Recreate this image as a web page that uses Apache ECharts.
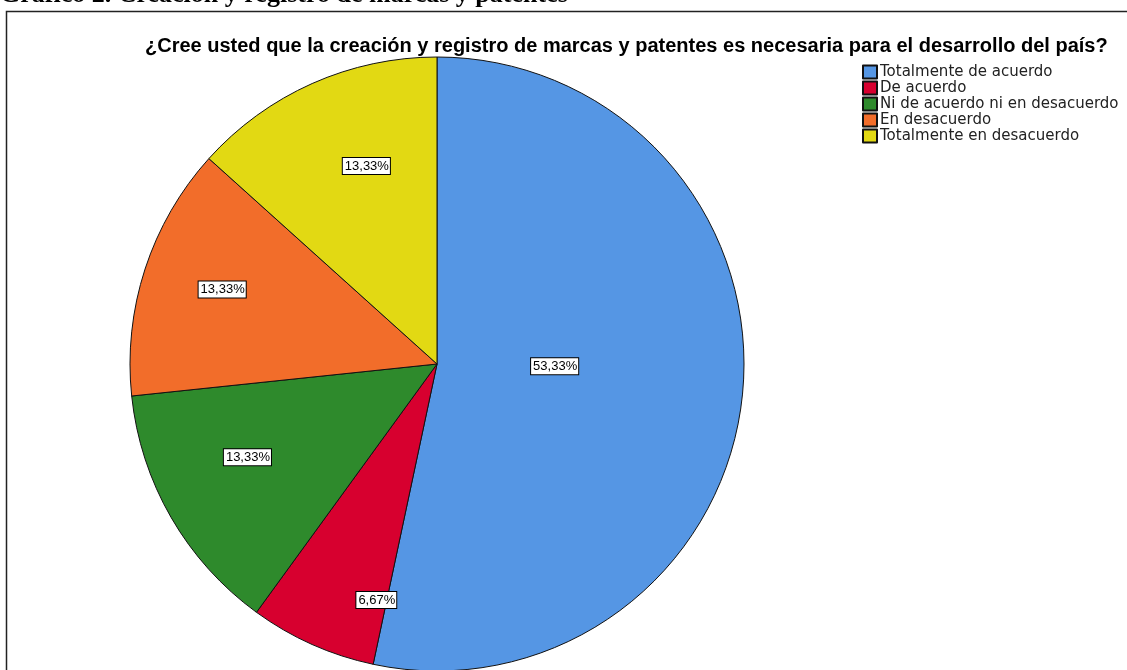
<!DOCTYPE html>
<html>
<head>
<meta charset="utf-8">
<script src="https://cdn.jsdelivr.net/npm/echarts@6/dist/echarts.min.js"></script>
<style>
  html, body { margin: 0; padding: 0; background: #fff; }
  #chart { width: 1127px; height: 670px; }
</style>
</head>
<body>
<div id="chart"></div>
<script>
const categories = ['Totalmente de acuerdo', 'De acuerdo', 'Ni de acuerdo ni en desacuerdo', 'En desacuerdo', 'Totalmente en desacuerdo'];
const percentages = [53.33, 6.67, 13.33, 13.33, 13.33];
const colors = ['#5596e4', '#d7002f', '#2e8a2c', '#f26d2a', '#e2d913'];
// label nudges from the default inside spot (SPSS puts them at uneven radii)
const labelOffsets = [[-38, -14], [3, 93], [-54, 15], [-66, -26], [-7, -55]];

const chart = echarts.init(document.getElementById('chart'), null, { renderer: 'canvas' });

const option = {
  animation: false,
  title: {
    text: '¿Cree usted que la creación y registro de marcas y patentes es necesaria para el desarrollo del país?',
    left: 145,
    top: 36,
    padding: 0,
    textStyle: { fontFamily: 'Liberation Sans', fontWeight: 'bold', fontSize: 20, color: '#000' }
  },
  legend: {
    orient: 'vertical',
    left: 862,
    top: 64,
    padding: 0,
    itemWidth: 14,
    itemHeight: 13,
    itemGap: 0,
    icon: 'rect',
    data: categories,
    textStyle: { fontFamily: 'DejaVu Sans', fontSize: 15, lineHeight: 16, color: '#222', padding: [0, 0, 0, -2] }
  },
  graphic: [
    {
      type: 'text',
      left: 0,
      top: -18,
      style: {
        text: 'Gráfico 2. Creación y registro de marcas y patentes',
        font: 'bold 26px "Liberation Serif"',
        fill: '#000'
      }
    },
    {
      type: 'rect',
      shape: { x: 6.5, y: 11.5, width: 1125, height: 680 },
      style: { fill: 'none', stroke: '#222', lineWidth: 1.5 },
      silent: true
    }
  ],
  series: [{
    type: 'pie',
    center: [437, 364],
    radius: 307,
    startAngle: 90,
    clockwise: true,
    data: categories.map((name, i) => ({
      name: name,
      value: percentages[i],
      itemStyle: { color: colors[i] },
      label: { offset: labelOffsets[i] }
    })),
    itemStyle: { borderColor: '#111', borderWidth: 1 },
    label: {
      show: true,
      position: 'inside',
      formatter: p => p.value.toFixed(2).replace('.', ',') + '%',
      fontFamily: 'Liberation Sans',
      fontSize: 13,
      color: '#000',
      backgroundColor: '#fff',
      borderColor: '#000',
      borderWidth: 1,
      padding: [2, 1, 1, 2]
    },
    labelLine: { show: false },
    emphasis: { disabled: true }
  }]
};

chart.setOption(option);
window.addEventListener('resize', chart.resize);
</script>
</body>
</html>
